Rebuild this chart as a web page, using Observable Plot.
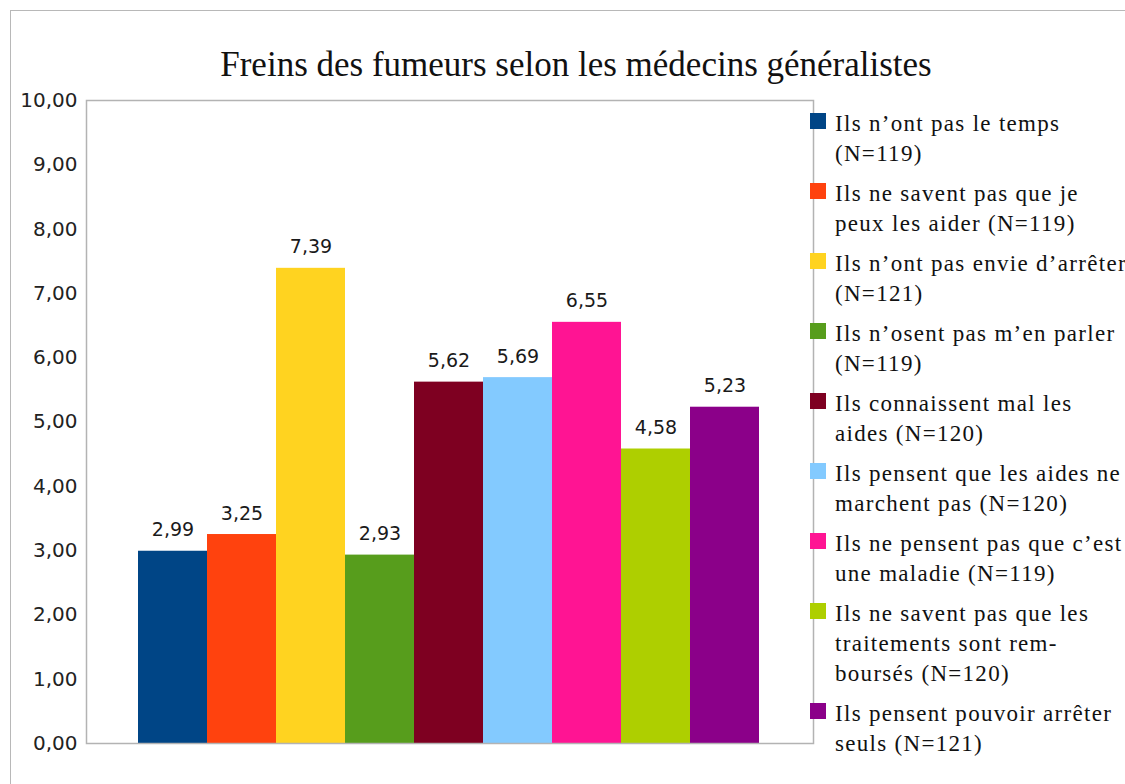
<!DOCTYPE html>
<html>
<head>
<meta charset="utf-8">
<script src="https://cdn.jsdelivr.net/npm/d3@7"></script>
<script src="https://cdn.jsdelivr.net/npm/@observablehq/plot@0.6"></script>
<style>
  html, body { margin: 0; padding: 0; background: #fff; }
  #wrap { position: relative; width: 1125px; height: 784px; overflow: hidden; background: #fff; }
  #border { position: absolute; left: 10px; top: 10px; width: 1300px; height: 1000px; border: 1.5px solid #b8b8b8; box-sizing: border-box; }
  #title { position: absolute; left: 26px; width: 1100px; top: 47px; text-align: center;
           font-family: "Liberation Serif", "DejaVu Serif", serif; font-size: 35px; line-height: 1; color: #111; white-space: nowrap; }
  #chart { position: absolute; left: 0; top: 0; }
  #legend { position: absolute; left: 810px; top: 109px; font-family: "Liberation Serif", "DejaVu Serif", serif;
            font-size: 23px; line-height: 30px; letter-spacing: 1.3px; color: #111; white-space: nowrap; }
  .item { position: relative; padding-left: 25px; margin-bottom: 10px; }
  .sw { position: absolute; left: 0; top: 4px; width: 16px; height: 16px; }
</style>
</head>
<body>
<div id="wrap">
  <div id="border"></div>
  <div id="chart"></div>
  <div id="title"></div>
  <div id="legend"></div>
</div>
<script>
const title = "Freins des fumeurs selon les médecins généralistes";
const categories = [
  "Ils n’ont pas le temps\n(N=119)",
  "Ils ne savent pas que je\npeux les aider (N=119)",
  "Ils n’ont pas envie d’arrêter\n(N=121)",
  "Ils n’osent pas m’en parler\n(N=119)",
  "Ils connaissent mal les\naides (N=120)",
  "Ils pensent que les aides ne\nmarchent pas (N=120)",
  "Ils ne pensent pas que c’est\nune maladie (N=119)",
  "Ils ne savent pas que les\ntraitements sont rem-\nboursés (N=120)",
  "Ils pensent pouvoir arrêter\nseuls (N=121)"
];
const values = [2.99, 3.25, 7.39, 2.93, 5.62, 5.69, 6.55, 4.58, 5.23];
const yTicks = [0, 1, 2, 3, 4, 5, 6, 7, 8, 9, 10];
const palette = ["#004586", "#ff420e", "#ffd320", "#579d1c", "#7e0021", "#83caff", "#ff1493", "#aecf00", "#8b0089"];

const data = categories.map((c, i) => ({cat: c, value: values[i]}));
const fmt = v => v.toFixed(2).replace(".", ",");

document.getElementById("title").textContent = title;

const chart = Plot.plot({
  width: 830,
  height: 784,
  marginLeft: 86,
  marginRight: 17,
  marginTop: 100,
  marginBottom: 41,
  style: {fontFamily: "'DejaVu Sans', Verdana, sans-serif", fontSize: "20px", color: "#222", background: "transparent"},
  x: {domain: categories, range: [137, 760], padding: 0, axis: null},
  y: {domain: [0, 10], ticks: yTicks, tickFormat: fmt, tickSize: 0, tickPadding: 9, label: null},
  color: {domain: categories, range: palette},
  marks: [
    Plot.barY(data, {x: "cat", y: "value", fill: "cat", inset: 0}),
    Plot.frame({stroke: "#b3b3b3", strokeWidth: 1.5}),
    Plot.text(data, {x: "cat", y: "value", text: d => fmt(d.value), dy: -21, fill: "#1a1a1a",
      fontSize: 19, fontFamily: "'DejaVu Sans', Verdana, sans-serif"})
  ]
});
document.getElementById("chart").appendChild(chart);

const legend = document.getElementById("legend");
categories.forEach((c, i) => {
  const item = document.createElement("div");
  item.className = "item";
  const sw = document.createElement("span");
  sw.className = "sw";
  sw.style.background = palette[i];
  item.appendChild(sw);
  c.split("\n").forEach(line => {
    const d = document.createElement("div");
    d.textContent = line;
    item.appendChild(d);
  });
  legend.appendChild(item);
});
</script>
</body>
</html>
